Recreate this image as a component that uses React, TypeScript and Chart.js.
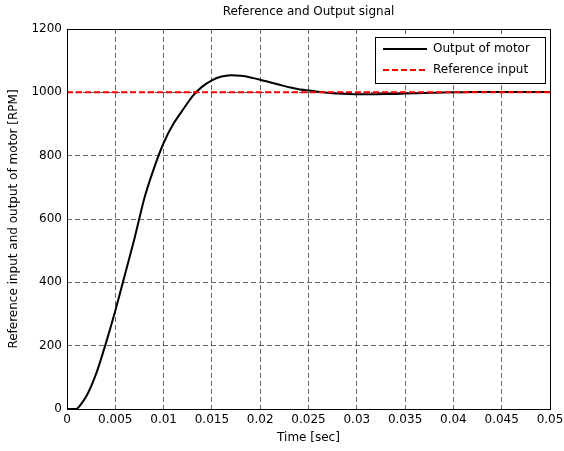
import React, { useEffect, useRef } from "react";
import { Chart, registerables } from "chart.js";

Chart.register(...registerables);

const timeSec = [0, 0.001, 0.002, 0.003, 0.004, 0.005, 0.006, 0.007, 0.008, 0.009, 0.010, 0.011, 0.012, 0.013, 0.014, 0.015, 0.016, 0.017, 0.018, 0.019, 0.020, 0.021, 0.022, 0.023, 0.024, 0.025, 0.026, 0.027, 0.028, 0.029, 0.030, 0.032, 0.034, 0.036, 0.038, 0.040, 0.042, 0.044, 0.046, 0.048, 0.050];
const motorOutput = [0, 0, 40, 110, 205, 310, 425, 540, 665, 760, 840, 900, 945, 988, 1018, 1038, 1050, 1054, 1052, 1047, 1040, 1032, 1024, 1016, 1010, 1006, 1002, 999, 996, 995, 994, 994, 995, 997, 999, 1000, 1001, 1001, 1001, 1001, 1001];
const refTime = [0, 0.05];
const refInput = [1000, 1000];
const xTicks = [0, 0.005, 0.01, 0.015, 0.02, 0.025, 0.03, 0.035, 0.04, 0.045, 0.05];
const xTickLabels = ["0", "0.005", "0.01", "0.015", "0.02", "0.025", "0.03", "0.035", "0.04", "0.045", "0.05"];
const yTicks = [0, 200, 400, 600, 800, 1000, 1200];
const seriesLabels = ["Output of motor", "Reference input"];
const chartTitle = "Reference and Output signal";
const xTitle = "Time [sec]";
const yTitle = "Reference input and output of motor [RPM]";

const FONT = "'DejaVu Sans', sans-serif";

const overlayPlugin = {
  id: "overlay",
  afterDatasetsDraw(chart: any) {
    const { ctx, chartArea } = chart;
    const { left, right, top, bottom } = chartArea;
    ctx.save();
    ctx.strokeStyle = "#000";
    ctx.lineWidth = 1;
    ctx.setLineDash([]);
    ctx.strokeRect(Math.round(left) + 0.5, Math.round(top) + 0.5, Math.round(right - left), Math.round(bottom - top));
    ctx.fillStyle = "#000";
    ctx.font = `12px ${FONT}`;
    ctx.textAlign = "center";
    ctx.textBaseline = "middle";
    ctx.fillText(chartTitle, (left + right) / 2, top - 17);
    const bw = 170, bh = 46;
    const bx = right - 5 - bw, by = top + 8;
    ctx.fillStyle = "#fff";
    ctx.fillRect(bx, by, bw, bh);
    ctx.strokeStyle = "#000";
    ctx.lineWidth = 1;
    ctx.strokeRect(Math.round(bx) + 0.5, Math.round(by) + 0.5, bw, bh);
    chart.data.datasets.forEach((ds: any, i: number) => {
      const y = by + 12 + i * 21;
      ctx.beginPath();
      ctx.strokeStyle = ds.borderColor;
      ctx.lineWidth = ds.borderWidth;
      ctx.setLineDash(ds.borderDash || []);
      ctx.moveTo(bx + 8, y);
      ctx.lineTo(bx + 52, y);
      ctx.stroke();
      ctx.setLineDash([]);
      ctx.fillStyle = "#000";
      ctx.textAlign = "left";
      ctx.textBaseline = "middle";
      ctx.font = `12px ${FONT}`;
      ctx.fillText(ds.label, bx + 58, y);
    });
    ctx.restore();
  },
};

export default function App() {
  const ref = useRef<HTMLCanvasElement | null>(null);
  useEffect(() => {
    document.body.style.margin = "0";
    const canvas = ref.current;
    if (!canvas) return;
    const chart = new Chart(canvas, {
      type: "line",
      data: {
        datasets: [
          {
            label: seriesLabels[0],
            data: timeSec.map((t, i) => ({ x: t, y: motorOutput[i] })),
            borderColor: "#000",
            borderWidth: 2,
            pointRadius: 0,
            tension: 0.2,
            order: 2,
          },
          {
            label: seriesLabels[1],
            data: refTime.map((t, i) => ({ x: t, y: refInput[i] })),
            borderColor: "#ff0000",
            borderWidth: 2,
            borderDash: [6, 3],
            pointRadius: 0,
            order: 1,
          },
        ],
      },
      options: {
        animation: false,
        responsive: false,
        maintainAspectRatio: false,
        layout: { padding: { left: 0, right: 14, top: 29, bottom: 0 } },
        plugins: { legend: { display: false }, title: { display: false }, tooltip: { enabled: false } },
        scales: {
          x: {
            type: "linear",
            min: 0,
            max: 0.05,
            afterBuildTicks: (s: any) => { s.ticks = xTicks.map((v) => ({ value: v })); },
            afterFit: (s: any) => { s.height = 42; s.paddingLeft = 0; s.paddingRight = 0; },
            ticks: {
              color: "#000",
              font: { family: FONT, size: 12 },
              padding: 4,
              maxRotation: 0,
              autoSkip: false,
              callback: (v: any) => { const i = xTicks.indexOf(v); return i >= 0 ? xTickLabels[i] : ""; },
            },
            grid: { color: "rgba(0,0,0,0.6)", lineWidth: 1, drawTicks: false, tickLength: 0 },
            border: { display: false, dash: [5, 3] },
            title: { display: true, text: xTitle, color: "#000", font: { family: FONT, size: 12 }, padding: { top: 0, bottom: 6 } },
          },
          y: {
            type: "linear",
            min: 0,
            max: 1200,
            afterBuildTicks: (s: any) => { s.ticks = yTicks.map((v) => ({ value: v })); },
            afterFit: (s: any) => { s.width = 67; },
            ticks: {
              color: "#000",
              font: { family: FONT, size: 12 },
              padding: 5,
              autoSkip: false,
              callback: (v: any) => String(v),
            },
            grid: { color: "rgba(0,0,0,0.6)", lineWidth: 1, drawTicks: false, tickLength: 0 },
            border: { display: false, dash: [5, 3] },
            title: { display: true, text: yTitle, color: "#000", font: { family: FONT, size: 12 }, padding: { top: 7, bottom: 0 } },
          },
        },
      },
      plugins: [overlayPlugin],
    } as any);
    return () => chart.destroy();
  }, []);
  return (
    <div style={{ width: 564, height: 451, background: "#fff" }}>
      <canvas ref={ref} width={564} height={451} style={{ display: "block" }} />
    </div>
  );
}
